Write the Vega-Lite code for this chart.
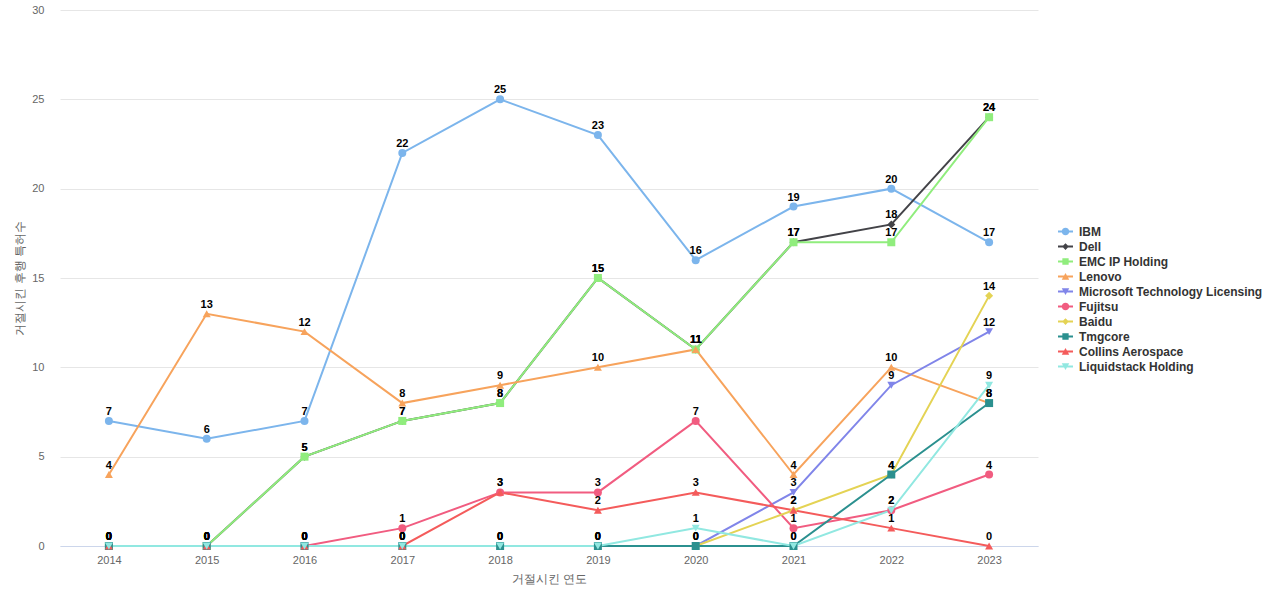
{
  "$schema": "https://vega.github.io/schema/vega-lite/v6.json",
  "width": 978,
  "height": 536,
  "autosize": "none",
  "padding": {"left": 60, "top": 10, "right": 242, "bottom": 54},
  "background": "#ffffff",
  "config": {
    "font": "Liberation Sans",
    "view": {"stroke": null},
    "axis": {"labelColor": "#666666", "labelFontSize": 11, "titleColor": "#666666", "titleFontSize": 12, "titleFontWeight": "normal", "labelFont": "Liberation Sans", "titleFont": "Liberation Sans"}
  },
  "data": {
    "values": [
      {"year": "2014", "company": "IBM", "count": 7},
      {"year": "2015", "company": "IBM", "count": 6},
      {"year": "2016", "company": "IBM", "count": 7},
      {"year": "2017", "company": "IBM", "count": 22},
      {"year": "2018", "company": "IBM", "count": 25},
      {"year": "2019", "company": "IBM", "count": 23},
      {"year": "2020", "company": "IBM", "count": 16},
      {"year": "2021", "company": "IBM", "count": 19},
      {"year": "2022", "company": "IBM", "count": 20},
      {"year": "2023", "company": "IBM", "count": 17},
      {"year": "2014", "company": "Dell", "count": 0},
      {"year": "2015", "company": "Dell", "count": 0},
      {"year": "2016", "company": "Dell", "count": 5},
      {"year": "2017", "company": "Dell", "count": 7},
      {"year": "2018", "company": "Dell", "count": 8},
      {"year": "2019", "company": "Dell", "count": 15},
      {"year": "2020", "company": "Dell", "count": 11},
      {"year": "2021", "company": "Dell", "count": 17},
      {"year": "2022", "company": "Dell", "count": 18},
      {"year": "2023", "company": "Dell", "count": 24},
      {"year": "2014", "company": "EMC IP Holding", "count": 0},
      {"year": "2015", "company": "EMC IP Holding", "count": 0},
      {"year": "2016", "company": "EMC IP Holding", "count": 5},
      {"year": "2017", "company": "EMC IP Holding", "count": 7},
      {"year": "2018", "company": "EMC IP Holding", "count": 8},
      {"year": "2019", "company": "EMC IP Holding", "count": 15},
      {"year": "2020", "company": "EMC IP Holding", "count": 11},
      {"year": "2021", "company": "EMC IP Holding", "count": 17},
      {"year": "2022", "company": "EMC IP Holding", "count": 17},
      {"year": "2023", "company": "EMC IP Holding", "count": 24},
      {"year": "2014", "company": "Lenovo", "count": 4},
      {"year": "2015", "company": "Lenovo", "count": 13},
      {"year": "2016", "company": "Lenovo", "count": 12},
      {"year": "2017", "company": "Lenovo", "count": 8},
      {"year": "2018", "company": "Lenovo", "count": 9},
      {"year": "2019", "company": "Lenovo", "count": 10},
      {"year": "2020", "company": "Lenovo", "count": 11},
      {"year": "2021", "company": "Lenovo", "count": 4},
      {"year": "2022", "company": "Lenovo", "count": 10},
      {"year": "2023", "company": "Lenovo", "count": 8},
      {"year": "2014", "company": "Microsoft Technology Licensing", "count": 0},
      {"year": "2015", "company": "Microsoft Technology Licensing", "count": 0},
      {"year": "2016", "company": "Microsoft Technology Licensing", "count": 0},
      {"year": "2017", "company": "Microsoft Technology Licensing", "count": 0},
      {"year": "2018", "company": "Microsoft Technology Licensing", "count": 0},
      {"year": "2019", "company": "Microsoft Technology Licensing", "count": 0},
      {"year": "2020", "company": "Microsoft Technology Licensing", "count": 0},
      {"year": "2021", "company": "Microsoft Technology Licensing", "count": 3},
      {"year": "2022", "company": "Microsoft Technology Licensing", "count": 9},
      {"year": "2023", "company": "Microsoft Technology Licensing", "count": 12},
      {"year": "2014", "company": "Fujitsu", "count": 0},
      {"year": "2015", "company": "Fujitsu", "count": 0},
      {"year": "2016", "company": "Fujitsu", "count": 0},
      {"year": "2017", "company": "Fujitsu", "count": 1},
      {"year": "2018", "company": "Fujitsu", "count": 3},
      {"year": "2019", "company": "Fujitsu", "count": 3},
      {"year": "2020", "company": "Fujitsu", "count": 7},
      {"year": "2021", "company": "Fujitsu", "count": 1},
      {"year": "2022", "company": "Fujitsu", "count": 2},
      {"year": "2023", "company": "Fujitsu", "count": 4},
      {"year": "2014", "company": "Baidu", "count": 0},
      {"year": "2015", "company": "Baidu", "count": 0},
      {"year": "2016", "company": "Baidu", "count": 0},
      {"year": "2017", "company": "Baidu", "count": 0},
      {"year": "2018", "company": "Baidu", "count": 0},
      {"year": "2019", "company": "Baidu", "count": 0},
      {"year": "2020", "company": "Baidu", "count": 0},
      {"year": "2021", "company": "Baidu", "count": 2},
      {"year": "2022", "company": "Baidu", "count": 4},
      {"year": "2023", "company": "Baidu", "count": 14},
      {"year": "2014", "company": "Tmgcore", "count": 0},
      {"year": "2015", "company": "Tmgcore", "count": 0},
      {"year": "2016", "company": "Tmgcore", "count": 0},
      {"year": "2017", "company": "Tmgcore", "count": 0},
      {"year": "2018", "company": "Tmgcore", "count": 0},
      {"year": "2019", "company": "Tmgcore", "count": 0},
      {"year": "2020", "company": "Tmgcore", "count": 0},
      {"year": "2021", "company": "Tmgcore", "count": 0},
      {"year": "2022", "company": "Tmgcore", "count": 4},
      {"year": "2023", "company": "Tmgcore", "count": 8},
      {"year": "2014", "company": "Collins Aerospace", "count": 0},
      {"year": "2015", "company": "Collins Aerospace", "count": 0},
      {"year": "2016", "company": "Collins Aerospace", "count": 0},
      {"year": "2017", "company": "Collins Aerospace", "count": 0},
      {"year": "2018", "company": "Collins Aerospace", "count": 3},
      {"year": "2019", "company": "Collins Aerospace", "count": 2},
      {"year": "2020", "company": "Collins Aerospace", "count": 3},
      {"year": "2021", "company": "Collins Aerospace", "count": 2},
      {"year": "2022", "company": "Collins Aerospace", "count": 1},
      {"year": "2023", "company": "Collins Aerospace", "count": 0},
      {"year": "2014", "company": "Liquidstack Holding", "count": 0},
      {"year": "2015", "company": "Liquidstack Holding", "count": 0},
      {"year": "2016", "company": "Liquidstack Holding", "count": 0},
      {"year": "2017", "company": "Liquidstack Holding", "count": 0},
      {"year": "2018", "company": "Liquidstack Holding", "count": 0},
      {"year": "2019", "company": "Liquidstack Holding", "count": 0},
      {"year": "2020", "company": "Liquidstack Holding", "count": 1},
      {"year": "2021", "company": "Liquidstack Holding", "count": 0},
      {"year": "2022", "company": "Liquidstack Holding", "count": 2},
      {"year": "2023", "company": "Liquidstack Holding", "count": 9}
    ]
  },
  "encoding": {
    "x": {
      "field": "year", "type": "ordinal",
      "scale": {"type": "point", "padding": 0.5},
      "axis": {"title": "거절시킨 연도", "labelAngle": 0, "domainColor": "#ccd6eb", "ticks": false, "labelPadding": 8, "titlePadding": 8, "grid": false}
    },
    "y": {
      "field": "count", "type": "quantitative",
      "scale": {"domain": [0, 30], "nice": false},
      "axis": {"title": "거절시킨 후행 특허수", "values": [0, 5, 10, 15, 20, 25, 30], "domain": false, "ticks": false, "gridColor": "#e6e6e6", "labelPadding": 16, "titlePadding": 5}
    }
  },
  "resolve": {"scale": {"shape": "independent", "color": "independent"}, "legend": {"shape": "independent", "color": "independent"}},
  "layer": [
    {
      "mark": {"type": "line", "strokeWidth": 2},
      "encoding": {
        "color": {
          "field": "company", "type": "nominal", "legend": null,
          "scale": {
            "domain": ["IBM", "Dell", "EMC IP Holding", "Lenovo", "Microsoft Technology Licensing", "Fujitsu", "Baidu", "Tmgcore", "Collins Aerospace", "Liquidstack Holding"],
            "range": ["#7cb5ec", "#434348", "#90ed7d", "#f7a35c", "#8085e9", "#f15c80", "#e4d354", "#2b908f", "#f45b5b", "#91e8e1"]
          }
        },
        "detail": {"field": "company"}
      }
    },
    {
      "mark": {"type": "point", "filled": true, "opacity": 1, "size": 64},
      "encoding": {
        "color": {
          "field": "company", "type": "nominal", "legend": null,
          "scale": {
            "domain": ["IBM", "Dell", "EMC IP Holding", "Lenovo", "Microsoft Technology Licensing", "Fujitsu", "Baidu", "Tmgcore", "Collins Aerospace", "Liquidstack Holding"],
            "range": ["#7cb5ec", "#434348", "#90ed7d", "#f7a35c", "#8085e9", "#f15c80", "#e4d354", "#2b908f", "#f45b5b", "#91e8e1"]
          }
        },
        "shape": {
          "field": "company", "type": "nominal", "legend": null,
          "scale": {
            "domain": ["IBM", "Dell", "EMC IP Holding", "Lenovo", "Microsoft Technology Licensing", "Fujitsu", "Baidu", "Tmgcore", "Collins Aerospace", "Liquidstack Holding"],
            "range": ["circle", "diamond", "square", "triangle-up", "triangle-down", "circle", "diamond", "square", "triangle-up", "triangle-down"]
          }
        }
      }
    },
    {
      "mark": {"type": "text", "fontSize": 11, "fontWeight": "bold", "color": "#000000", "baseline": "bottom", "dy": -4, "font": "Liberation Sans"},
      "encoding": {"text": {"field": "count", "type": "quantitative"}}
    },
    {
      "transform": [{"filter": "false"}],
      "mark": {"type": "point", "filled": true, "opacity": 1},
      "encoding": {
        "color": {
          "field": "company", "type": "nominal",
          "scale": {
            "domain": ["IBM", "Dell", "EMC IP Holding", "Lenovo", "Microsoft Technology Licensing", "Fujitsu", "Baidu", "Tmgcore", "Collins Aerospace", "Liquidstack Holding"],
            "range": ["#7cb5ec", "#434348", "#90ed7d", "#f7a35c", "#8085e9", "#f15c80", "#e4d354", "#2b908f", "#f45b5b", "#91e8e1"]
          },
          "legend": {
            "title": null,
            "orient": "none",
            "legendX": 998,
            "legendY": 214,
            "symbolSize": 225,
            "symbolStrokeWidth": 0,
            "labelOffset": 6,
            "labelFontSize": 12,
            "labelFontWeight": "bold",
            "labelColor": "#333333",
            "labelFont": "Liberation Sans",
            "rowPadding": 1,
            "padding": 0,
            "labelLimit": 300,
            "symbolOpacity": 1
          }
        },
        "shape": {
          "field": "company", "type": "nominal",
          "scale": {
            "domain": ["IBM", "Dell", "EMC IP Holding", "Lenovo", "Microsoft Technology Licensing", "Fujitsu", "Baidu", "Tmgcore", "Collins Aerospace", "Liquidstack Holding"],
            "range": [
              "M-1,-0.13H1V0.13H-1Z M0.5,0 A0.5,0.5 0 1,1 -0.5,0 A0.5,0.5 0 1,1 0.5,0 Z",
              "M-1,-0.13H1V0.13H-1Z M0,-0.45 L0.45,0 L0,0.45 L-0.45,0 Z",
              "M-1,-0.13H1V0.13H-1Z M-0.42,-0.42H0.42V0.42H-0.42Z",
              "M-1,-0.13H1V0.13H-1Z M0,-0.48 L0.5,0.42 L-0.5,0.42 Z",
              "M-1,-0.13H1V0.13H-1Z M-0.5,-0.42 L0.5,-0.42 L0,0.48 Z",
              "M-1,-0.13H1V0.13H-1Z M0.5,0 A0.5,0.5 0 1,1 -0.5,0 A0.5,0.5 0 1,1 0.5,0 Z",
              "M-1,-0.13H1V0.13H-1Z M0,-0.45 L0.45,0 L0,0.45 L-0.45,0 Z",
              "M-1,-0.13H1V0.13H-1Z M-0.42,-0.42H0.42V0.42H-0.42Z",
              "M-1,-0.13H1V0.13H-1Z M0,-0.48 L0.5,0.42 L-0.5,0.42 Z",
              "M-1,-0.13H1V0.13H-1Z M-0.5,-0.42 L0.5,-0.42 L0,0.48 Z"
            ]
          },
          "legend": {
            "title": null,
            "orient": "none",
            "legendX": 998,
            "legendY": 214,
            "symbolSize": 225,
            "symbolStrokeWidth": 0,
            "labelOffset": 6,
            "labelFontSize": 12,
            "labelFontWeight": "bold",
            "labelColor": "#333333",
            "labelFont": "Liberation Sans",
            "rowPadding": 1,
            "padding": 0,
            "labelLimit": 300,
            "symbolOpacity": 1
          }
        }
      }
    }
  ]
}
